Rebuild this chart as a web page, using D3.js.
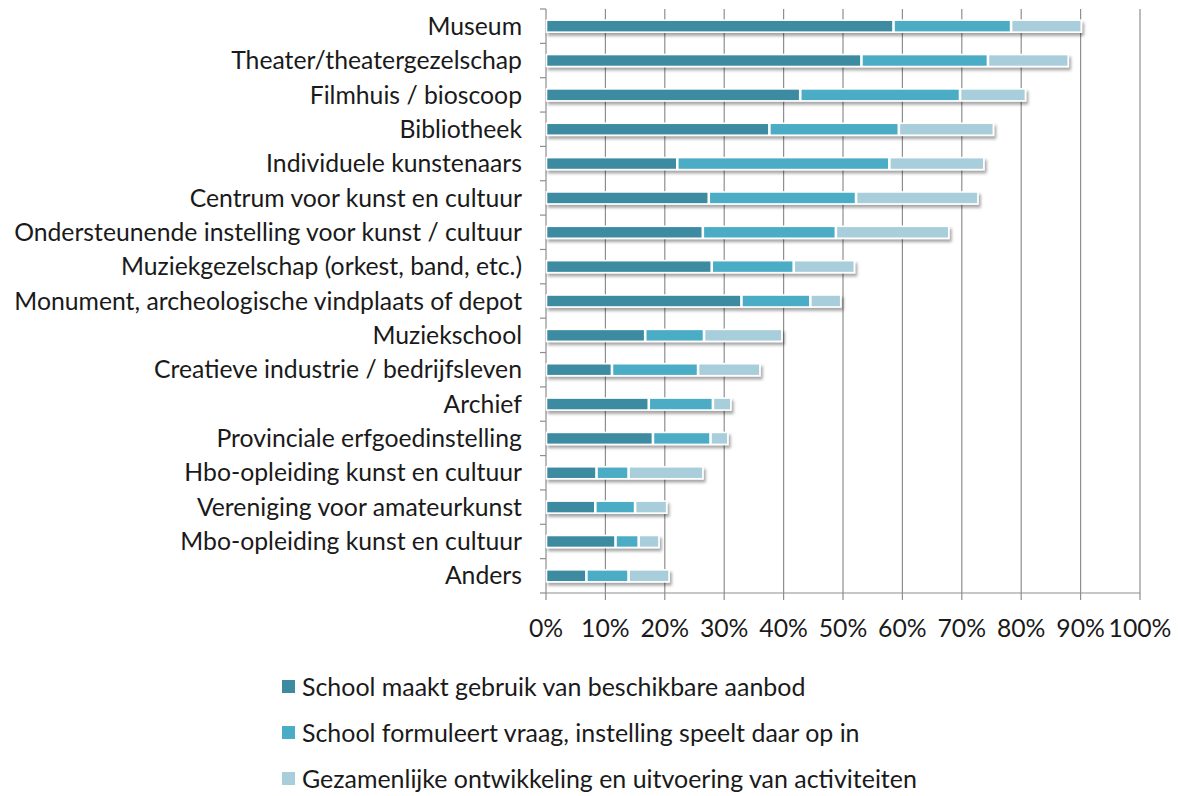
<!DOCTYPE html>
<html><head><meta charset="utf-8">
<script src="https://cdn.jsdelivr.net/npm/d3@7"></script>
<style>body{margin:0;background:#fff}svg{display:block}text{font-family:Lato,"Open Sans",sans-serif;fill:#1a1a1a}</style>
</head><body><svg id="c" width="1178" height="796"></svg>
<script>
const categories = ["Museum","Theater/theatergezelschap","Filmhuis / bioscoop","Bibliotheek","Individuele kunstenaars","Centrum voor kunst en cultuur","Ondersteunende instelling voor kunst / cultuur","Muziekgezelschap (orkest, band, etc.)","Monument, archeologische vindplaats of depot","Muziekschool","Creatieve industrie / bedrijfsleven","Archief","Provinciale erfgoedinstelling","Hbo-opleiding kunst en cultuur","Vereniging voor amateurkunst","Mbo-opleiding kunst en cultuur","Anders"];
const seriesNames = ["School maakt gebruik van beschikbare aanbod","School formuleert vraag, instelling speelt daar op in","Gezamenlijke ontwikkeling en uitvoering van activiteiten"];
const aanbod = [58.5,53.1,42.8,37.6,22.1,27.4,26.4,27.9,32.9,16.7,11.1,17.3,18.0,8.5,8.3,11.7,6.8];
const vraag  = [19.8,21.3,26.9,21.8,35.7,24.8,22.4,13.8,11.6,9.9,14.5,10.8,9.7,5.4,6.7,3.9,7.1];
const samen  = [11.9,13.6,11.1,16.0,16.0,20.6,19.1,10.3,5.2,13.2,10.5,3.1,3.0,12.6,5.4,3.5,6.9];
const xTicks = [0,10,20,30,40,50,60,70,80,90,100];
const colors = ["#3d8ba1","#4bacc6","#a9cedb"];

const svg = d3.select("#c");
const m = {left:546, right:1140, top:9, bottom:593};
const x = d3.scaleLinear().domain([0,100]).range([m.left,m.right]);
const y = d3.scaleBand().domain(categories).range([m.top,m.bottom]);

const defs = svg.append("defs");
const f = defs.append("filter").attr("id","sh").attr("x","-5%").attr("y","-50%").attr("width","115%").attr("height","250%");
f.append("feDropShadow").attr("dx",2).attr("dy",3).attr("stdDeviation",1.8).attr("flood-color","#000").attr("flood-opacity",0.35);

// gridlines
svg.append("g").selectAll("line").data(xTicks.slice(1)).join("line")
  .attr("x1",d=>x(d)).attr("x2",d=>x(d)).attr("y1",m.top).attr("y2",m.bottom)
  .attr("stroke","#8e8e8e").attr("stroke-width",1.2);

// y axis
const yAxis = svg.append("g").attr("transform",`translate(${m.left},0)`);
yAxis.append("line").attr("x1",0).attr("x2",0).attr("y1",m.top).attr("y2",m.bottom).attr("stroke","#8e8e8e").attr("stroke-width",1.2);
const bounds = categories.map(c=>y(c)).concat([m.bottom]);
yAxis.selectAll("line.t").data(bounds).join("line").attr("class","t")
  .attr("x1",-6).attr("x2",0).attr("y1",d=>d).attr("y2",d=>d).attr("stroke","#8e8e8e").attr("stroke-width",1.2);

// x axis
const xAxis = svg.append("g").attr("transform",`translate(0,${m.bottom})`);
xAxis.append("line").attr("x1",m.left).attr("x2",m.right).attr("stroke","#8e8e8e").attr("stroke-width",1.2);
xAxis.selectAll("line.t").data(xTicks).join("line").attr("class","t")
  .attr("x1",d=>x(d)).attr("x2",d=>x(d)).attr("y1",0).attr("y2",7).attr("stroke","#8e8e8e").attr("stroke-width",1.2);
xAxis.selectAll("text").data(xTicks).join("text")
  .attr("x",d=>x(d)).attr("y",44).attr("text-anchor","middle").attr("font-size",21).text(d=>d+"%");

// data table
const rows = categories.map((c,i)=>({cat:c, s0:aanbod[i], s1:vraag[i], s2:samen[i]}));
const stack = d3.stack().keys(["s0","s1","s2"])(rows);
const bh = 12;
const barsG = svg.append("g");
const perCat = barsG.selectAll("g").data(rows).join("g").attr("filter","url(#sh)");
perCat.each(function(r,i){
  const g = d3.select(this);
  stack.forEach((layer,k)=>{
    const d = layer[i];
    g.append("rect").attr("x",x(d[0])+0.5).attr("width",Math.max(0,x(d[1])-x(d[0])-1))
      .attr("y",y(r.cat)+y.bandwidth()/2-bh/2).attr("height",bh)
      .attr("fill",colors[k]).attr("stroke","#fff").attr("stroke-width",1.6);
  });
});

// category labels
const labs = svg.append("g").selectAll("text").data(categories).join("text")
  .attr("x",522).attr("y",d=>y(d)+y.bandwidth()/2).attr("dy","0.35em")
  .attr("text-anchor","end").attr("font-size",21).text(d=>d);
const longest = labs.filter(d=>d===categories[6]).node();
const w = longest.getComputedTextLength();
const fs = 21*508/w;
labs.attr("font-size",fs);
xAxis.selectAll("text").attr("font-size",fs);

// legend
const leg = svg.append("g").selectAll("g").data(seriesNames).join("g")
  .attr("transform",(d,i)=>`translate(282,${687+i*46})`);
leg.append("rect").attr("x",0).attr("y",-7).attr("width",13).attr("height",13).attr("fill",(d,i)=>colors[i]);
const lt = leg.append("text").attr("x",20).attr("y",0).attr("dy","0.35em").attr("font-size",fs).text(d=>d);
const lw = lt.filter((d,i)=>i===2).node().getComputedTextLength();
lt.attr("font-size",fs*615/lw);
</script></body></html>
